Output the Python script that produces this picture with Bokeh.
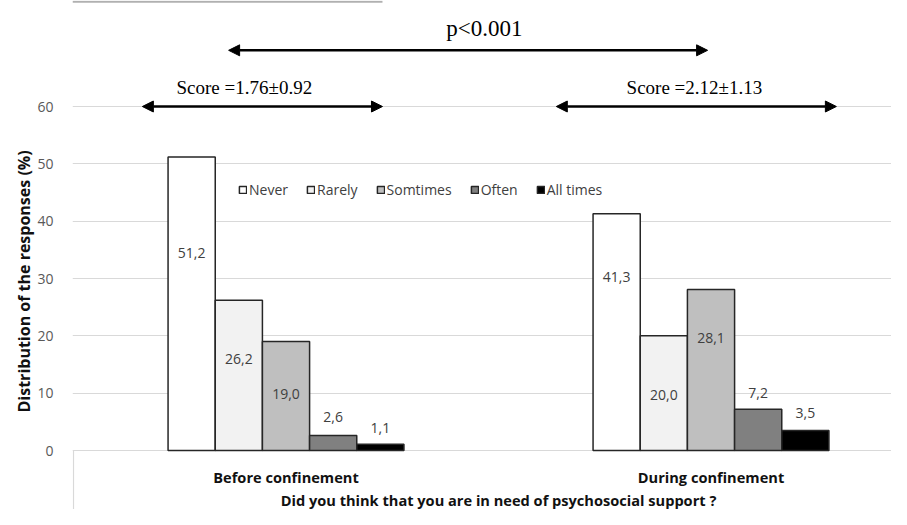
from bokeh.plotting import figure
from bokeh.models import Range1d, FixedTicker, Arrow, NormalHead, Title, ColumnDataSource
from bokeh.embed import file_html
from bokeh.resources import INLINE
from bokeh.core.properties import value

# ---------------- data ----------------
categories = ["Before confinement", "During confinement"]
responses = ["Never", "Rarely", "Somtimes", "Often", "All times"]
never = [51.2, 41.3]
rarely = [26.2, 20.0]
sometimes = [19.0, 28.1]
often = [2.6, 7.2]
all_times = [1.1, 3.5]
y_ticks = [0, 10, 20, 30, 40, 50, 60]
x_title = "Did you think that you are in need of psychosocial support ?"
y_title = "Distribution of the responses (%)"
p_text = "p<0.001"
score_texts = ["Score =1.76\u00b10.92", "Score =2.12\u00b11.13"]

series = [never, rarely, sometimes, often, all_times]

# ---------------- layout / style ----------------
colors = ["#ffffff", "#f2f2f2", "#bfbfbf", "#808080", "#000000"]
label_y = [[34.5, 30.3], [16.0, 9.6], [9.9, 19.7], [5.8, 10.1], [4.0, 6.6]]
bar_w = 0.111
cat_pos = [0.5, 1.5]
Y0, Y1 = -10.29, 78.49
X0, X1 = -0.00235, 1.9247

p = figure(width=891, height=509, x_range=Range1d(X0, X1), y_range=Range1d(Y0, Y1),
           output_backend="svg", toolbar_location=None, x_axis_location=None,
           min_border_left=72, min_border_right=0, min_border_top=0, min_border_bottom=0)
p.outline_line_color = None
p.background_fill_color = "white"

p.yaxis.ticker = FixedTicker(ticks=y_ticks)
p.yaxis.axis_line_color = None
p.yaxis.major_tick_line_color = None
p.yaxis.minor_tick_line_color = None
p.yaxis.major_label_text_font = "Open Sans"
p.yaxis.major_label_text_font_size = "14px"
p.yaxis.major_label_text_color = "#595959"
p.yaxis.major_label_standoff = 13

p.ygrid.ticker = FixedTicker(ticks=y_ticks)
p.ygrid.grid_line_color = "#d9d9d9"
p.xgrid.grid_line_color = None

# y-axis title, in the left panel
p.add_layout(Title(text=y_title, align="left", offset=97, text_font="Open Sans",
                   text_font_style="bold", text_font_size="16px", text_color="#111111",
                   standoff=0), "left")

# left border of category axis box and top frame remnant
p.segment(x0=[0], y0=[0], x1=[0], y1=[Y0], line_color="#d9d9d9", line_width=1.2)
p.segment(x0=[X0], y0=[Y1 - 0.2], x1=[0.727], y1=[Y1 - 0.2], line_color="#b0b0b0", line_width=2)

for i, (name, vals) in enumerate(zip(responses, series)):
    xs = [c + (i - 2) * bar_w for c in cat_pos]
    src = ColumnDataSource(dict(x=xs, top=vals,
                                lbl=[f"{v:.1f}".replace(".", ",") for v in vals],
                                ly=label_y[i]))
    p.vbar(x="x", top="top", bottom=0, width=bar_w, source=src,
           fill_color=colors[i], line_color="#262626", line_width=1.5,
           legend_label=name)
    p.text(x="x", y="ly", text="lbl", source=src, text_align="center",
           text_baseline="middle", text_font=value("Open Sans"),
           text_font_size="14px", text_color="#404040")

# category labels and x title
p.text(x=cat_pos, y=[-4.7, -4.7], text=categories, text_align="center",
       text_baseline="middle", text_font=value("Open Sans"), text_font_style="bold",
       text_font_size="14.6px", text_color="#111111")
p.text(x=[1.0], y=[-8.7], text=[x_title], text_align="center",
       text_baseline="middle", text_font=value("Open Sans"), text_font_style="bold",
       text_font_size="14.6px", text_color="#111111")

# annotations: p-value and scores
p.text(x=[0.967], y=[73.6], text=[p_text], text_align="center", text_baseline="middle",
       text_font=value("Liberation Serif"), text_font_size="23px", text_color="black")
p.text(x=[0.402, 1.461], y=[63.4, 63.4], text=score_texts, text_align="center",
       text_baseline="middle", text_font=value("Liberation Serif"),
       text_font_size="19px", text_color="black")

for (xs_, xe_, yy) in [(0.365, 1.492, 69.8), (0.162, 0.727, 60.0), (1.136, 1.795, 60.0)]:
    p.add_layout(Arrow(x_start=xs_, y_start=yy, x_end=xe_, y_end=yy,
                       start=NormalHead(size=11, fill_color="black", line_color="black"),
                       end=NormalHead(size=11, fill_color="black", line_color="black"),
                       line_color="black", line_width=2.5))

lg = p.legend[0]
lg.location = (166, 310)
lg.orientation = "horizontal"
lg.glyph_width = 9
lg.glyph_height = 9
lg.label_standoff = 2
lg.spacing = 18
lg.padding = 0
lg.margin = 0
lg.label_height = 16
lg.border_line_color = None
lg.background_fill_alpha = 0
lg.label_text_font = "Open Sans"
lg.label_text_font_size = "14px"
lg.label_text_color = "#404040"

open("out.html", "w").write(file_html(p, INLINE))
